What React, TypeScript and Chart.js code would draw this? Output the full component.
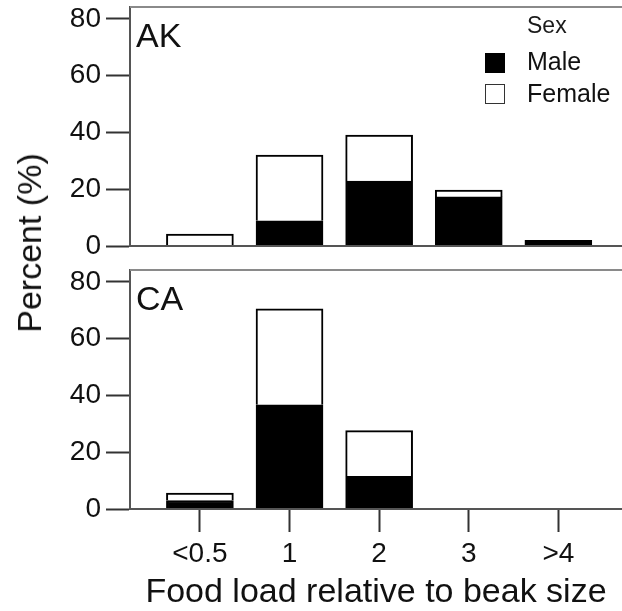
import React, { useEffect, useRef } from 'react';
import { Chart, registerables } from 'chart.js';

Chart.register(...registerables);

// ---- data ----
const xLabels = ['<0.5', '1', '2', '3', '>4'];
const xPositions = [0, 1, 2, 3, 4];
const akMale = [0, 8.9, 22.9, 17.3, 2.0];
const akFemale = [4.2, 23.1, 16.2, 2.4, 0];
const caMale = [3.0, 36.7, 11.5, 0, 0];
const caFemale = [2.6, 33.8, 16.1, 0, 0];
const yTicks = [0, 20, 40, 60, 80];
const seriesNames = ['Male', 'Female'];
const legendTitle = 'Sex';
const panelNames = ['AK', 'CA'];
const xTitle = 'Food load relative to beak size';
const yTitle = 'Percent (%)';

const FAMILY = "'Liberation Sans', Arial, sans-serif";

function panelLabelPlugin(name: string) {
  return {
    id: 'panelLabel',
    afterDraw(chart: any) {
      const { ctx, chartArea } = chart;
      ctx.save();
      ctx.font = `34px ${FAMILY}`;
      ctx.fillStyle = '#111';
      ctx.textAlign = 'left';
      ctx.textBaseline = 'alphabetic';
      ctx.fillText(name, chartArea.left + 6, chartArea.top + 40);
      ctx.restore();
    },
  };
}

const frameTopPlugin = {
  id: 'frameTop',
  beforeDatasetsDraw(chart: any) {
    const { ctx, chartArea } = chart;
    ctx.save();
    ctx.strokeStyle = '#8a8a8a';
    ctx.lineWidth = 2;
    ctx.beginPath();
    ctx.moveTo(chartArea.left, chartArea.top);
    ctx.lineTo(chartArea.right, chartArea.top);
    ctx.stroke();
    ctx.restore();
  },
};

const legendPlugin = {
  id: 'sexLegend',
  afterDraw(chart: any) {
    const { ctx, chartArea } = chart;
    const bx = chartArea.right - 137;
    const tx = chartArea.right - 95;
    const top = chartArea.top;
    ctx.save();
    ctx.textAlign = 'left';
    ctx.textBaseline = 'alphabetic';
    ctx.font = `23px ${FAMILY}`;
    ctx.fillStyle = '#1a1a1a';
    ctx.fillText(legendTitle, tx, top + 26);
    // Male swatch
    ctx.fillStyle = '#000';
    ctx.fillRect(bx, top + 46, 20, 20);
    // Female swatch
    ctx.fillStyle = '#fff';
    ctx.fillRect(bx, top + 77, 20, 19);
    ctx.strokeStyle = '#333';
    ctx.lineWidth = 1;
    ctx.strokeRect(bx + 0.5, top + 77.5, 19, 19);
    ctx.font = `25px ${FAMILY}`;
    ctx.fillStyle = '#111';
    ctx.fillText(seriesNames[0], tx, top + 63);
    ctx.fillText(seriesNames[1], tx, top + 94.5);
    ctx.restore();
  },
};

function makeConfig(male: number[], female: number[], name: string, isBottom: boolean): any {
  const plugins: any[] = [frameTopPlugin, panelLabelPlugin(name)];
  if (!isBottom) plugins.push(legendPlugin);
  return {
    type: 'bar',
    data: {
      datasets: [
        {
          label: seriesNames[0],
          data: male.map((y, i) => ({ x: xPositions[i], y })),
          backgroundColor: '#000',
          borderColor: '#000',
          borderWidth: 2,
          barThickness: 67,
        },
        {
          label: seriesNames[1],
          data: female.map((y, i) => ({ x: xPositions[i], y })),
          backgroundColor: '#fff',
          borderColor: '#000',
          borderWidth: 2,
          barThickness: 67,
        },
      ],
    },
    options: {
      responsive: false,
      animation: false,
      devicePixelRatio: 1,
      events: [],
      layout: { padding: isBottom ? { top: 14, bottom: 0, left: 0, right: 0 } : { top: 7, bottom: 10, left: 0, right: 0 } },
      plugins: { legend: { display: false }, tooltip: { enabled: false }, title: { display: false } },
      scales: {
        x: {
          type: 'linear',
          stacked: true,
          min: -0.78,
          max: 4.71,
          offset: false,
          afterBuildTicks: (s: any) => {
            s.ticks = xPositions.map((v) => ({ value: v }));
          },
          afterFit: (s: any) => {
            s.paddingLeft = 0;
            s.paddingRight = 0;
            s.height = isBottom ? 102 : 0;
          },
          ticks: {
            display: isBottom,
            autoSkip: false,
            maxRotation: 0,
            padding: 5,
            font: { family: FAMILY, size: 28 },
            color: '#111',
            callback: (v: number) => {
              const k = xPositions.indexOf(v);
              return k >= 0 ? xLabels[k] : '';
            },
          },
          grid: {
            display: isBottom,
            offset: false,
            drawOnChartArea: false,
            drawTicks: isBottom,
            tickLength: 23,
            tickWidth: 2,
            tickColor: '#333',
          },
          border: { display: true, color: '#555', width: 2, z: 1 },
          title: {
            display: isBottom,
            text: xTitle,
            font: { family: FAMILY, size: 34 },
            color: '#111',
            padding: { top: 0, bottom: -2 },
          },
        },
        y: {
          stacked: true,
          min: 0,
          max: 84.2,
          afterBuildTicks: (s: any) => {
            s.ticks = yTicks.map((v) => ({ value: v }));
          },
          afterFit: (s: any) => {
            s.width = 130;
            s.paddingTop = 0;
            s.paddingBottom = 0;
          },
          ticks: {
            padding: 5,
            font: { family: FAMILY, size: 28 },
            color: '#111',
          },
          grid: {
            drawOnChartArea: false,
            drawTicks: true,
            tickLength: 24,
            tickWidth: 2,
            tickColor: '#333',
          },
          border: { display: true, color: '#555', width: 2 },
        },
      },
    },
    plugins,
  };
}

export default function App() {
  const topRef = useRef<HTMLCanvasElement>(null);
  const botRef = useRef<HTMLCanvasElement>(null);

  useEffect(() => {
    const c1 = new Chart(topRef.current as HTMLCanvasElement, makeConfig(akMale, akFemale, panelNames[0], false));
    const c2 = new Chart(botRef.current as HTMLCanvasElement, makeConfig(caMale, caFemale, panelNames[1], true));
    return () => {
      c1.destroy();
      c2.destroy();
    };
  }, []);

  return (
    <div style={{ position: 'absolute', left: 0, top: 0, width: 622, height: 611, background: '#fff', overflow: 'hidden' }}>
      <canvas ref={topRef} width={622} height={256} style={{ position: 'absolute', left: 0, top: 0, width: 622, height: 256 }} />
      <canvas ref={botRef} width={622} height={355} style={{ position: 'absolute', left: 0, top: 256, width: 622, height: 355 }} />
      <div
        style={{
          position: 'absolute',
          left: 29,
          top: 243,
          transform: 'translate(-50%, -50%) rotate(-90deg)',
          whiteSpace: 'nowrap',
          fontFamily: FAMILY,
          fontSize: 34,
          lineHeight: 1,
          color: '#111',
        }}
      >
        {yTitle}
      </div>
    </div>
  );
}
